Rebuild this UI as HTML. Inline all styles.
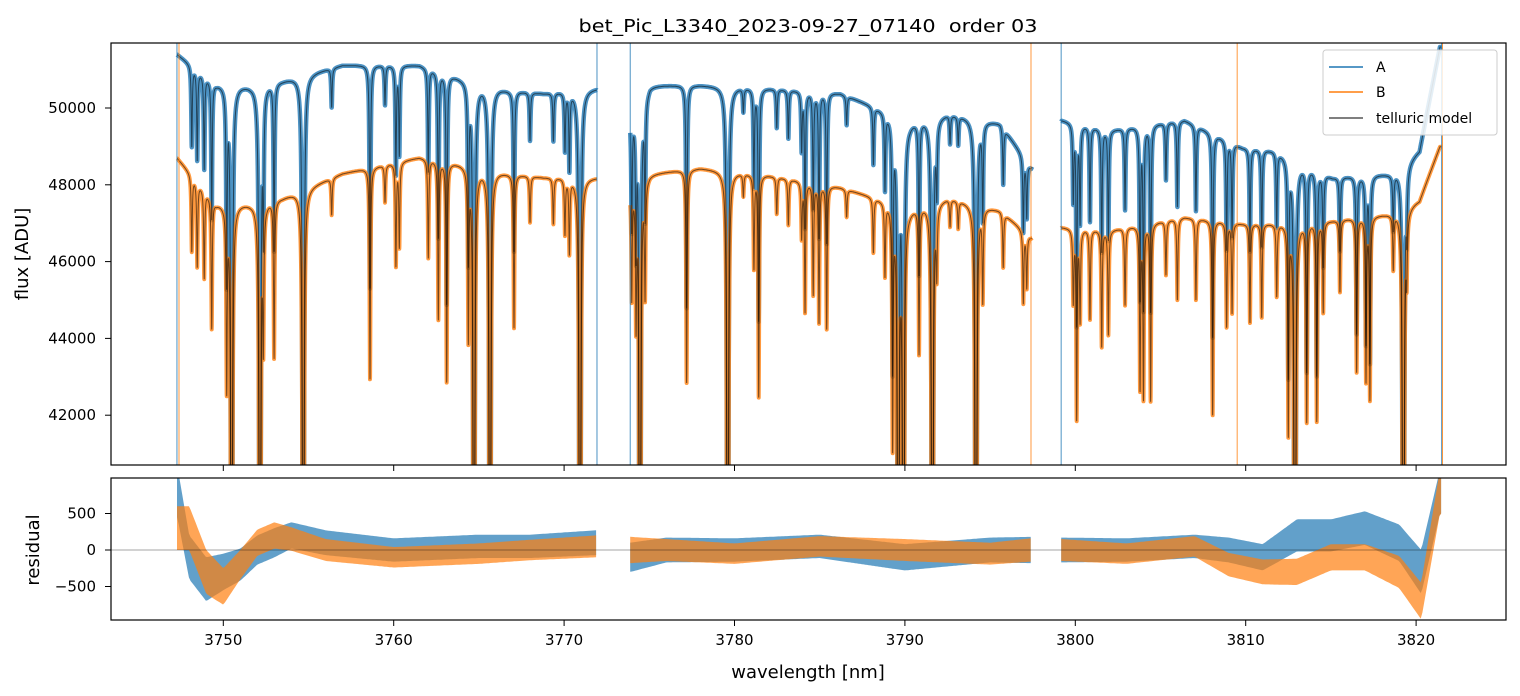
<!DOCTYPE html>
<html><head><meta charset="utf-8">
<style>
body{margin:0;background:#fff;}
svg{display:block;font-family:"DejaVu Sans","Liberation Sans",sans-serif;}
</style></head>
<body>
<svg id="chart" width="1520" height="696" viewBox="0 0 1520 696" xmlns="http://www.w3.org/2000/svg">
<rect width="1520" height="696" fill="#fff"/>
<text x="808" y="32" font-size="18" text-anchor="middle" textLength="459" lengthAdjust="spacingAndGlyphs" xml:space="preserve">bet_Pic_L3340_2023-09-27_07140  order 03</text>
<defs>
<clipPath id="clipTop"><rect x="111" y="43" width="1395" height="422"/></clipPath>
<clipPath id="clipBot"><rect x="111" y="478" width="1395" height="142"/></clipPath>
</defs>
<g id="topPanel"></g>
<g id="botPanel"></g>
<g id="axes"></g>
<text transform="translate(28,254) rotate(-90)" font-size="18" text-anchor="middle">flux [ADU]</text>
<text transform="translate(39,550) rotate(-90)" font-size="18" text-anchor="middle">residual</text>
<text x="808" y="678" font-size="18" text-anchor="middle">wavelength [nm]</text>
<g>
<rect x="1323" y="50" width="174" height="85" rx="3" fill="#fff" fill-opacity="0.85" stroke="#ccc"/>
<line x1="1329" y1="67" x2="1363" y2="67" stroke="#1f77b4" stroke-width="1.6"/>
<text x="1376" y="72" font-size="14">A</text>
<line x1="1329" y1="92" x2="1363" y2="92" stroke="#ff7f0e" stroke-width="1.6"/>
<text x="1376" y="97" font-size="14">B</text>
<line x1="1329" y1="118" x2="1363" y2="118" stroke="#555" stroke-width="1.6"/>
<text x="1376" y="123" font-size="14">telluric model</text>
</g>
</svg>
<script>
// ---- data ----
const contWl=[3747.3,3749.6,3751.6,3753.5,3757.0,3761.5,3763.9,3766.8,3768.8,3771.9,3773.9,3775.05,3777.98,3781.9,3786.2,3790.3,3792.6,3795.6,3797.4,3799.2,3801.96,3806.4,3809.8,3811.7,3815.1,3818.6,3820.2,3821.4];
const contA=[51400,50650,50600,50730,51120,51120,50800,50470,50390,50520,49900,50600,50600,50520,50390,49690,49870,49610,48460,49690,49430,49690,48980,48900,48200,48300,48900,51600];
const contB=[48700,47530,47530,47680,48300,48720,48560,48300,48200,48200,48000,48300,48440,48260,47940,47420,47680,47340,46640,46900,46820,47160,47000,47000,47080,47260,47600,49000];
const lineWl=[3748.15,3748.47,3748.88,3749.32,3750.20,3750.49,3752.15,3752.35,3752.98,3754.69,3756.36,3758.61,3759.49,3760.13,3760.33,3762.03,3762.62,3763.11,3764.38,3764.71,3765.65,3767.06,3768.0,3769.37,3770.05,3770.31,3770.93,
3773.97,3774.22,3774.45,3774.75,3777.19,3779.60,3780.52,3781.14,3781.42,3782.48,3783.16,3783.94,3784.14,3784.62,3784.96,3785.41,3786.58,3788.15,3788.83,3789.28,3789.61,3789.91,3790.83,3791.61,3791.87,3792.65,3793.13,3794.17,3794.57,3795.77,3796.95,3797.15,
3799.88,3800.08,3800.28,3800.86,3801.55,3801.94,3802.92,3803.80,3804.0,3804.42,3805.32,3805.99,3807.08,3808.06,3808.88,3809.20,3810.25,3810.94,3811.82,3812.50,3812.89,3813.58,3814.17,3814.55,3815.53,3816.51,3817.06,3817.29,3818.66,3819.25,3819.45];
const lineDepth=[0.041,0.046,0.048,0.071,0.098,0.6,0.6,0.07,0.086,0.6,0.02,0.114,0.02,0.055,0.045,0.053,0.085,0.118,0.09,0.6,0.6,0.083,0.025,0.025,0.03,0.04,0.6,
0.06,0.07,0.6,0.06,0.115,0.6,0.012,0.05,0.12,0.02,0.025,0.03,0.07,0.06,0.075,0.078,0.015,0.03,0.04,0.13,0.6,0.6,0.08,0.6,0.035,0.015,0.015,0.6,0.05,0.03,0.04,0.03,
0.04,0.105,0.05,0.05,0.065,0.058,0.043,0.09,0.095,0.098,0.03,0.045,0.045,0.108,0.058,0.05,0.055,0.052,0.04,0.115,0.6,0.11,0.11,0.05,0.04,0.085,0.09,0.1,0.03,0.6,0.03];
const segStart=[3747.28,3773.88,3799.17];
const segEnd=[3771.93,3797.47,3821.5];
const resWl=[3747.3,3748,3749,3750,3751,3752,3753,3754,3756,3760,3765,3768,3771.9,3773.9,3776,3780,3785,3790,3795,3797.4,3799.2,3803,3807,3809,3811,3813,3815,3817,3819,3820.3,3821.4];
const resA=[800,-100,-400,-300,-200,0,100,200,100,0,50,50,100,-100,0,0,50,-100,0,0,0,0,50,0,-100,200,200,300,100,-300,800];
const resB=[300,300,-300,-500,-200,100,200,150,0,-100,-50,0,50,0,0,-50,50,0,-50,0,0,-50,50,-200,-300,-300,-100,-100,-300,-700,800];
const resHalfA=[350,300,300,250,220,200,200,180,170,160,160,160,170,200,170,160,160,180,170,180,170,160,160,170,180,220,220,230,250,300,300];
const resHalfB=[300,300,300,250,200,180,180,160,150,140,140,140,150,180,150,140,140,150,150,160,150,140,140,160,170,180,180,180,220,250,300];
const spikeWlA=[3747.28,3771.93,3773.88,3799.17,3821.5];
const spikeWlB=[3747.4,3797.4,3809.5,3821.55];
const xTicks=[3750,3760,3770,3780,3790,3800,3810,3820];
const yTicksTop=[42000,44000,46000,48000,50000];
const yTicksBot=[-500,0,500];

// ---- axes ----
const X=w=>223.3+(w-3750)*17.04;
const YT=v=>108-(v-50000)*0.0384;
const YB=v=>550-v*0.073;
const NS='http://www.w3.org/2000/svg';
function mk(tag,parent,attrs){const e=document.createElementNS(NS,tag);for(const k in attrs)e.setAttribute(k,attrs[k]);parent.appendChild(e);return e;}
function interp(xs,ys,x){if(x<=xs[0])return ys[0];for(let i=1;i<xs.length;i++){if(x<=xs[i]){const t=(x-xs[i-1])/(xs[i]-xs[i-1]);return ys[i-1]+t*(ys[i]-ys[i-1]);}}return ys[ys.length-1];}
function trans(w){let t=1;for(let i=0;i<lineWl.length;i++){const d=(w-lineWl[i])/0.035;const L=1/(1+d*d);t*=(1-lineDepth[i]*L);}return t;}

const topG=document.getElementById('topPanel');
const botG=document.getElementById('botPanel');
const gT=mk('g',topG,{'clip-path':'url(#clipTop)'});
const gB=mk('g',botG,{'clip-path':'url(#clipBot)'});

const pathsA=[],pathsB=[];
for(let s=0;s<segStart.length;s++){
  let pA='',pB='';
  for(let w=segStart[s];w<=segEnd[s];w+=0.006){
    const t=trans(w);
    const fa=interp(contWl,contA,w)*t, fb=interp(contWl,contB,w)*t;
    const c=pA?'L':'M';
    const x=X(w).toFixed(2);
    const ya=Math.min(700,YT(fa)).toFixed(1), yb=Math.min(700,YT(fb)).toFixed(1);
    pA+=c+x+' '+ya; pB+=c+x+' '+yb;
  }
  pathsA.push(pA);pathsB.push(pB);
}
pathsA.forEach(d=>{const e=mk('path',gT,{d:d,fill:'none',stroke:'#1f77b4','stroke-opacity':0.8,'stroke-width':4.5,'stroke-linejoin':'round'});

});
pathsB.forEach(d=>{const e=mk('path',gT,{d:d,fill:'none',stroke:'#ff7f0e','stroke-opacity':0.8,'stroke-width':4,'stroke-linejoin':'round'});

});
pathsA.concat(pathsB).forEach(d=>{const e=mk('path',gT,{d:d,fill:'none',stroke:'#000','stroke-opacity':0.55,'stroke-width':1});

});
spikeWlA.forEach(w=>{const e=mk('line',gT,{x1:X(w),x2:X(w),y1:43,y2:465,stroke:'#1f77b4','stroke-opacity':0.8,'stroke-width':1});

});
spikeWlB.forEach(w=>{const e=mk('line',gT,{x1:X(w),x2:X(w),y1:43,y2:465,stroke:'#ff7f0e','stroke-opacity':0.8,'stroke-width':1});

});

// residual bands
function band(center,half,color,op,name){
  for(let s=0;s<segStart.length;s++){
    let up=[],dn=[];
    for(let w=segStart[s];w<=segEnd[s];w+=0.1){
      const c=interp(resWl,center,w),h=interp(resWl,half,w);
      up.push(X(w).toFixed(1)+','+YB(c+h).toFixed(1));
      dn.push(X(w).toFixed(1)+','+YB(c-h).toFixed(1));
    }
    const e=mk('polygon',gB,{points:up.concat(dn.reverse()).join(' '),fill:color,'fill-opacity':op});
    
    
  }
}
band(resA,resHalfA,'#1f77b4',0.7,'residual-a-band');
band(resB,resHalfB,'#ff7f0e',0.7,'residual-b-band');
const z=mk('line',gB,{x1:111,x2:1506,y1:YB(0),y2:YB(0),stroke:'#000','stroke-width':0.6,'stroke-opacity':0.7});



// frames and ticks
const ax=document.getElementById('axes');
const f1=mk('rect',ax,{x:111,y:43,width:1395,height:422,fill:'none',stroke:'#000','stroke-width':1.2});


const f2=mk('rect',ax,{x:111,y:478,width:1395,height:142,fill:'none',stroke:'#000','stroke-width':1.2});


xTicks.forEach(v=>{const x=X(v);
 mk('line',ax,{x1:x,x2:x,y1:465,y2:471,stroke:'#000'});
 mk('line',ax,{x1:x,x2:x,y1:620,y2:626,stroke:'#000'});
 const t=mk('text',ax,{x:x,y:645,'font-size':15,'text-anchor':'middle'});t.textContent=v;
 
 });
yTicksTop.forEach(v=>{const y=YT(v);
 mk('line',ax,{x1:105,x2:111,y1:y,y2:y,stroke:'#000'});
 const t=mk('text',ax,{x:96,y:y+5,'font-size':15,'text-anchor':'end'});t.textContent=v;
 
 });
yTicksBot.forEach(v=>{const y=YB(v);
 mk('line',ax,{x1:105,x2:111,y1:y,y2:y,stroke:'#000'});
 const t=mk('text',ax,{x:96,y:y+5,'font-size':15,'text-anchor':'end'});t.textContent=v<0?'\u2212'+(-v):v;
 
 });
</script>
</body></html>
